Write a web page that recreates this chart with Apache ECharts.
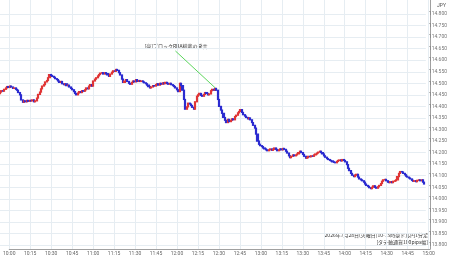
<!DOCTYPE html>
<html>
<head>
<meta charset="utf-8">
<script src="https://cdn.jsdelivr.net/npm/echarts@6/dist/echarts.min.js"></script>
<style>
  html, body { margin: 0; padding: 0; background: #fff; }
  #chart { width: 450px; height: 258px; }
</style>
</head>
<body>
<div id="chart"></div>
<script>
// 1分足の終値 (10:00 から 15:00 まで)
const firstOpen = 114.455;
const closes = [
  114.462, 114.468, 114.466, 114.474, 114.480, 114.486, 114.482, 114.488, 114.484, 114.478,
  114.480, 114.474, 114.470, 114.460, 114.450, 114.428, 114.418, 114.424, 114.420, 114.426,
  114.422, 114.426, 114.424, 114.428, 114.420, 114.424, 114.436, 114.452, 114.462, 114.476,
  114.488, 114.494, 114.506, 114.512, 114.524, 114.538, 114.534, 114.530, 114.526, 114.520,
  114.516, 114.510, 114.504, 114.508, 114.498, 114.494, 114.498, 114.490, 114.492, 114.484,
  114.478, 114.472, 114.464, 114.456, 114.450, 114.458, 114.464, 114.460, 114.468, 114.466,
  114.472, 114.480, 114.476, 114.488, 114.494, 114.488, 114.510, 114.518, 114.524, 114.532,
  114.538, 114.544, 114.546, 114.540, 114.546, 114.542, 114.536, 114.530, 114.540, 114.548,
  114.554, 114.552, 114.560, 114.556, 114.546, 114.536, 114.518, 114.504, 114.510, 114.516,
  114.508, 114.500, 114.496, 114.504, 114.510, 114.506, 114.516, 114.508, 114.512, 114.508,
  114.510, 114.506, 114.502, 114.498, 114.492, 114.486, 114.480, 114.484, 114.490, 114.488,
  114.494, 114.498, 114.492, 114.500, 114.496, 114.502, 114.498, 114.504, 114.500, 114.496,
  114.500, 114.494, 114.490, 114.486, 114.480, 114.472, 114.464, 114.500, 114.490, 114.470,
  114.430, 114.388, 114.398, 114.414, 114.410, 114.404, 114.396, 114.388, 114.420, 114.444,
  114.450, 114.456, 114.448, 114.444, 114.452, 114.460, 114.456, 114.450, 114.454, 114.468,
  114.474, 114.470, 114.478, 114.470, 114.430, 114.400, 114.384, 114.370, 114.352, 114.340,
  114.330, 114.344, 114.334, 114.340, 114.346, 114.342, 114.356, 114.362, 114.372, 114.378,
  114.386, 114.374, 114.364, 114.358, 114.352, 114.346, 114.350, 114.342, 114.330, 114.318,
  114.306, 114.280, 114.250, 114.236, 114.230, 114.226, 114.220, 114.216, 114.212, 114.208,
  114.212, 114.216, 114.210, 114.214, 114.220, 114.214, 114.208, 114.212, 114.216, 114.212,
  114.218, 114.214, 114.206, 114.198, 114.186, 114.178, 114.184, 114.190, 114.186, 114.190,
  114.194, 114.200, 114.206, 114.200, 114.192, 114.184, 114.176, 114.178, 114.184, 114.182,
  114.186, 114.184, 114.190, 114.194, 114.198, 114.202, 114.206, 114.200, 114.194, 114.186,
  114.180, 114.174, 114.170, 114.166, 114.164, 114.160, 114.158, 114.156, 114.162, 114.166,
  114.168, 114.164, 114.170, 114.166, 114.160, 114.148, 114.132, 114.122, 114.110, 114.102,
  114.096, 114.102, 114.106, 114.094, 114.086, 114.082, 114.078, 114.072, 114.064, 114.058,
  114.054, 114.048, 114.044, 114.050, 114.056, 114.050, 114.046, 114.052, 114.058, 114.066,
  114.076, 114.082, 114.084, 114.078, 114.072, 114.070, 114.074, 114.070, 114.076, 114.078,
  114.082, 114.096, 114.110, 114.118, 114.116, 114.110, 114.104, 114.098, 114.094, 114.090,
  114.086, 114.080, 114.076, 114.078, 114.074, 114.080, 114.082, 114.078, 114.082, 114.072,
  114.064
];
const yTicks = { min: 113.8, max: 114.8, step: 0.05 };
const noteText = "[豪]ブロックRBA総裁の発言";
const noteFrom = { minute: 124, price: 114.640 };
const noteTo = { minute: 152, price: 114.481 };
const captionLines = ["2026年7月28日(火曜日)10-15時豪ドル円1分足", "[タテ軸通貨100pips幅]"];

// 時刻カテゴリ 10:00〜15:01
const times = [];
for (let m = 0; m <= 301; m++) {
  const h = 10 + Math.floor(m / 60);
  const mm = m % 60;
  times.push(h + ":" + (mm < 10 ? "0" + mm : mm));
}

const candles = closes.map((c, i) => {
  const o = i === 0 ? firstOpen : closes[i - 1];
  return [o, c, Math.min(o, c), Math.max(o, c)];
});

const every15 = (idx) => idx % 15 === 0;
const fontJP = '"Noto Sans CJK JP", "Noto Sans", sans-serif';

const chart = echarts.init(document.getElementById("chart"));
const option = {
  animation: false,
  backgroundColor: "#fff",
  grid: [
    { left: 0, right: 20, top: 0, bottom: 9 },
    { left: 0, right: 20, top: 14, bottom: 13 },
  ],
  xAxis: [
    {
      type: "category",
      gridIndex: 0,
      data: times,
      boundaryGap: false,
      axisLine: { show: true, lineStyle: { color: "#a0a0a0" } },
      axisTick: { show: false },
      axisLabel: {
        interval: every15,
        fontSize: 5,
        color: "#666",
        margin: 2,
        fontFamily: "Roboto, sans-serif",
      },
      splitLine: {
        show: true,
        interval: every15,
        lineStyle: { color: "#e6edf2", width: 1 },
      },
    },
    {
      type: "category",
      gridIndex: 1,
      data: times,
      boundaryGap: false,
      show: false,
    },
  ],
  yAxis: [
    {
      type: "value",
      gridIndex: 0,
      position: "right",
      min: 0,
      max: 1,
      axisLine: { show: true, lineStyle: { color: "#a0a0a0" } },
      axisTick: { show: false },
      axisLabel: { show: false },
      splitLine: { show: false },
    },
    {
      type: "value",
      gridIndex: 1,
      position: "right",
      min: yTicks.min,
      max: yTicks.max,
      interval: yTicks.step,
      axisLine: { show: false },
      axisTick: { show: false },
      axisLabel: {
        fontSize: 5,
        color: "#777",
        margin: 3,
        fontFamily: "Roboto, sans-serif",
        formatter: (v) => v.toFixed(3),
      },
      splitLine: { lineStyle: { color: "#e6edf2", width: 1 } },
    },
  ],
  series: [
    {
      type: "candlestick",
      xAxisIndex: 1,
      yAxisIndex: 1,
      data: candles,
      barWidth: 1.6,
      itemStyle: {
        color: "#e03535",
        color0: "#2b2bd0",
        borderColor: "#e03535",
        borderColor0: "#2b2bd0",
        borderWidth: 1.2,
      },
      markLine: {
        silent: true,
        symbol: "none",
        label: { show: false },
        lineStyle: { color: "#5cd65c", width: 1, type: "solid" },
        data: [
          [
            { coord: [times[noteFrom.minute], noteFrom.price] },
            { coord: [times[noteTo.minute], noteTo.price] },
          ],
        ],
      },
    },
  ],
  graphic: [
    {
      type: "text",
      x: 437,
      y: 3,
      style: { text: "JPY", fill: "#555", font: "5px Roboto, sans-serif" },
    },
    {
      type: "text",
      x: 176,
      y: 46,
      style: {
        text: noteText,
        fill: "#333",
        font: "5px " + fontJP,
        align: "center",
        verticalAlign: "middle",
        textAlign: "center",
        textVerticalAlign: "middle",
      },
    },
    {
      type: "text",
      x: 428,
      y: 232,
      style: {
        text: captionLines.join("\n"),
        fill: "#333",
        font: "5px " + fontJP,
        lineHeight: 7,
        align: "right",
        textAlign: "right",
      },
    },
  ],
};
chart.setOption(option);
</script>
</body>
</html>
